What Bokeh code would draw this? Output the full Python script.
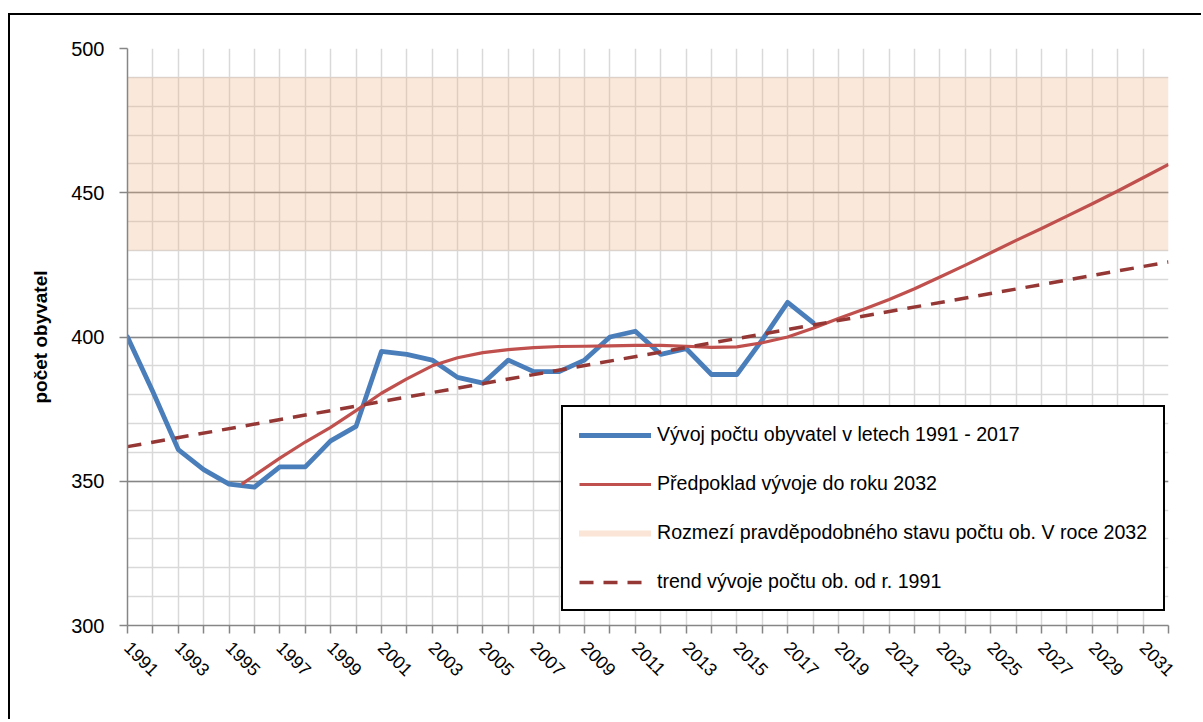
import math
from bokeh.plotting import figure
from bokeh.models import (ColumnDataSource, FixedTicker, SingleIntervalTicker,
                          Legend, LegendItem, Range1d)
from bokeh.embed import file_html
from bokeh.resources import INLINE

# ---------------- data ----------------
years = list(range(1991, 2019))
population = [400, 381, 361, 354, 349, 348, 355, 355, 364, 369, 395, 394, 392, 386,
              384, 392, 388, 388, 392, 400, 402, 394, 396, 387, 387, 399, 412, 405]

forecast_years = [1995.5] + list(range(1996, 2033))
forecast = [349, 352, 358, 363.6, 368.7, 374.5, 380.5, 385.5, 390, 392.8, 394.6,
            395.6, 396.3, 396.7, 396.8, 396.9, 397.1, 397.1, 396.8, 396.4, 396.6,
            398, 400, 403, 406.4, 409.6, 413, 416.7, 420.8, 424.9, 429.2, 433.5,
            437.6, 441.9, 446.2, 450.6, 455.2, 459.8]

trend_years = [1991, 2032]
trend = [362, 426]

band_years = [1991, 2032]
band_low = [430, 430]
band_high = [490, 490]

x_ticks = list(range(1991, 2033))
labeled_years = list(range(1991, 2032, 2))

legend_labels = [
    "Vývoj počtu obyvatel v letech 1991 - 2017",
    "Předpoklad vývoje do roku 2032",
    "Rozmezí pravděpodobného stavu počtu ob. V roce 2032",
    "trend vývoje počtu ob. od r. 1991",
]

# ---------------- style ----------------
FONT = "Liberation Sans"
BLUE = "#4A7EBB"
RED = "#C0504D"
DARKRED = "#953735"
BAND = "#EEB284"
GRID_MINOR = "#D9D9D9"
GRID_MAJOR = "#868686"

p = figure(width=1193, height=706, output_backend="svg", toolbar_location=None,
           x_range=Range1d(1991, 2032), y_range=Range1d(300, 500),
           min_border_left=117, min_border_right=35, min_border_top=33,
           min_border_bottom=96, margin=(13, 0, 0, 8),
           background_fill_color="white", border_fill_color="white",
           outline_line_color=None)
p.styles = {"border-left": "2px solid black", "border-top": "2px solid black"}

# band
band_src = ColumnDataSource(dict(left=[band_years[0]], right=[band_years[1]],
                                 bottom=[band_low[0]], top=[band_high[0]]))
p.quad(left="left", right="right", bottom="bottom", top="top", source=band_src,
       fill_color=BAND, fill_alpha=0.3, line_color=None)

r_blue = p.line(years, population, line_color=BLUE, line_width=4.8,
                line_join="round", line_cap="round")
r_red = p.line(forecast_years, forecast, line_color=RED, line_width=3.2,
               line_join="round")
r_trend = p.line(trend_years, trend, line_color=DARKRED, line_width=3.5,
                 line_dash="14 10")
# legend-only glyph for the band (kept outside the visible range)
r_band_leg = p.line([1980, 1981], [0, 0], line_color="#FBE5D6", line_width=6,
                    line_cap="round")

# axes
p.xaxis.ticker = FixedTicker(ticks=x_ticks)
p.xaxis.major_label_overrides = {y: (str(y) if y in labeled_years else "") for y in x_ticks}
p.xaxis.major_label_orientation = -math.pi / 4
p.xaxis.major_label_text_font = FONT
p.xaxis.major_label_text_font_size = "18px"
p.xaxis.major_label_text_color = "black"
p.xaxis.major_label_standoff = 11
p.xaxis.minor_tick_line_color = None
p.xaxis.major_tick_in = 0
p.xaxis.major_tick_out = 8
p.xaxis.major_tick_line_color = GRID_MAJOR
p.xaxis.major_tick_line_width = 1.5
p.xaxis.axis_line_color = GRID_MAJOR
p.xaxis.axis_line_width = 1.5

p.yaxis.ticker = SingleIntervalTicker(interval=50, num_minor_ticks=5)
p.yaxis.major_label_text_font = FONT
p.yaxis.major_label_text_font_size = "20px"
p.yaxis.major_label_text_color = "black"
p.yaxis.major_label_standoff = 15
p.yaxis.minor_tick_line_color = None
p.yaxis.major_tick_in = 0
p.yaxis.major_tick_out = 8
p.yaxis.major_tick_line_color = GRID_MAJOR
p.yaxis.major_tick_line_width = 1.5
p.yaxis.axis_line_color = GRID_MAJOR
p.yaxis.axis_line_width = 1.5
p.yaxis.axis_label = "počet obyvatel"
p.yaxis.axis_label_text_font = FONT
p.yaxis.axis_label_text_font_style = "bold"
p.yaxis.axis_label_text_font_size = "19px"
p.yaxis.axis_label_text_color = "black"
p.yaxis.axis_label_standoff = 17

# grids
p.xgrid.ticker = FixedTicker(ticks=x_ticks)
p.xgrid.grid_line_color = GRID_MINOR
p.xgrid.grid_line_width = 1.5
p.ygrid.ticker = SingleIntervalTicker(interval=50, num_minor_ticks=5)
p.ygrid.grid_line_color = GRID_MAJOR
p.ygrid.grid_line_width = 1.5
p.ygrid.minor_grid_line_color = GRID_MINOR
p.ygrid.minor_grid_line_width = 1.5

# legend
legend = Legend(items=[
    LegendItem(label=legend_labels[0], renderers=[r_blue]),
    LegendItem(label=legend_labels[1], renderers=[r_red]),
    LegendItem(label=legend_labels[2], renderers=[r_band_leg]),
    LegendItem(label=legend_labels[3], renderers=[r_trend]),
], location=(434, 14))
legend.border_line_color = "black"
legend.border_line_alpha = 1.0
legend.border_line_width = 2.5
legend.background_fill_color = "white"
legend.background_fill_alpha = 1
legend.glyph_width = 72
legend.glyph_height = 22
legend.label_height = 22
legend.label_standoff = 6
legend.padding = 16
legend.spacing = 26
legend.margin = 0
legend.label_text_font = FONT
legend.label_text_font_size = "19.6px"
legend.label_text_color = "black"
p.add_layout(legend, "center")

open("out.html", "w").write(file_html(p, INLINE))
